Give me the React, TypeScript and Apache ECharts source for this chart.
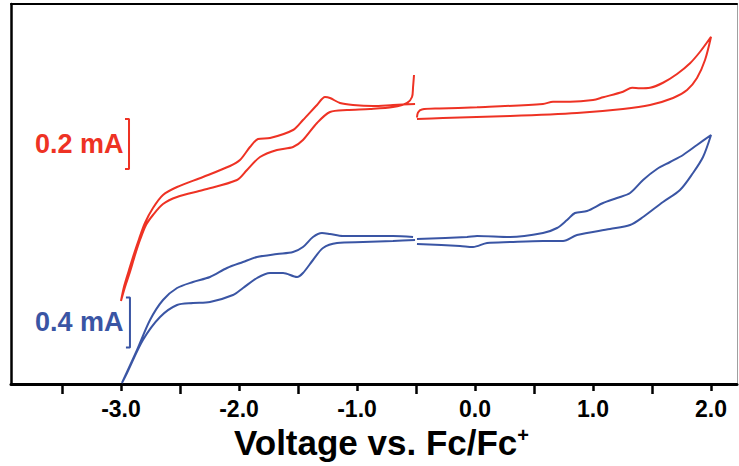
import React, { useEffect, useRef } from "react";
import * as echarts from "echarts";

// Voltage (V vs Fc/Fc+) and current (mA, arbitrary zero) pairs
const redNegSweep: number[][] = [
  [-0.517, 0.12], [-0.525, 0.072], [-0.534, 0.032], [-0.576, 0.008], [-0.695, -0.008],
  [-0.89, -0.016], [-1.085, -0.02], [-1.229, -0.028], [-1.339, -0.072], [-1.458, -0.14],
  [-1.542, -0.168], [-1.678, -0.18], [-1.822, -0.208], [-1.932, -0.26], [-2.017, -0.3],
  [-2.305, -0.34], [-2.525, -0.368], [-2.644, -0.396], [-2.729, -0.44], [-2.788, -0.48],
  [-2.839, -0.54], [-2.881, -0.6], [-2.924, -0.668], [-2.966, -0.728], [-3.0, -0.784],
  [-2.975, -0.728], [-2.932, -0.66], [-2.89, -0.596], [-2.847, -0.536], [-2.797, -0.472],
  [-2.729, -0.412], [-2.644, -0.36], [-2.525, -0.328], [-2.305, -0.288], [-2.076, -0.244],
  [-1.992, -0.22], [-1.907, -0.168], [-1.839, -0.136], [-1.737, -0.132], [-1.542, -0.1],
  [-1.458, -0.06], [-1.339, 0], [-1.271, 0.032], [-1.229, 0.028], [-1.144, 0.008],
  [-1.034, 0], [-0.864, -0.004], [-0.695, 0], [-0.508, 0.004],
];

const redPosSweep: number[][] = [
  [-0.492, -0.05], [-0.483, -0.03], [-0.45, -0.018], [-0.3, -0.014], [0.017, -0.009],
  [0.576, 0.004], [0.661, 0.013], [0.805, 0.013], [1.0, 0.02], [1.085, 0.031],
  [1.254, 0.053], [1.331, 0.069], [1.398, 0.067], [1.483, 0.069], [1.593, 0.089],
  [1.712, 0.124], [1.822, 0.167], [1.907, 0.213], [2.0, 0.273],
  [1.949, 0.18], [1.881, 0.108], [1.797, 0.06], [1.678, 0.028], [1.483, 0],
  [1.254, -0.016], [0.864, -0.032], [0.297, -0.044], [-0.271, -0.052], [-0.492, -0.056],
];

const blueNegSweep: number[][] = [
  [-0.508, 0], [-0.695, -0.008], [-0.949, -0.016], [-1.169, -0.024], [-1.288, -0.064],
  [-1.373, -0.16], [-1.458, -0.264], [-1.508, -0.296], [-1.627, -0.264], [-1.737, -0.264],
  [-1.847, -0.304], [-1.966, -0.384], [-2.051, -0.44], [-2.246, -0.496], [-2.39, -0.504],
  [-2.525, -0.52], [-2.669, -0.616], [-2.814, -0.8], [-2.949, -1.064], [-2.992, -1.144],
  [-2.864, -0.88], [-2.754, -0.64], [-2.644, -0.48], [-2.525, -0.384], [-2.39, -0.336],
  [-2.246, -0.296], [-2.102, -0.224], [-1.966, -0.176], [-1.847, -0.136], [-1.678, -0.112],
  [-1.542, -0.096], [-1.458, -0.056], [-1.373, 0.024], [-1.297, 0.056], [-1.229, 0.048],
  [-1.119, 0.032], [-0.949, 0.032], [-0.695, 0.032], [-0.525, 0.024],
];

const bluePosSweep: number[][] = [
  [-0.492, 0.008], [-0.068, 0.024], [0.017, 0.032], [0.297, 0.024], [0.576, 0.056],
  [0.695, 0.096], [0.78, 0.16], [0.847, 0.216], [0.949, 0.232], [1.085, 0.296],
  [1.203, 0.336], [1.314, 0.376], [1.424, 0.48], [1.542, 0.568], [1.653, 0.624],
  [1.763, 0.68], [1.881, 0.76], [2.0, 0.84],
  [1.932, 0.664], [1.847, 0.536], [1.737, 0.4], [1.593, 0.304], [1.424, 0.184],
  [1.314, 0.12], [1.144, 0.088], [0.864, 0.04], [0.746, -0.008], [0.576, -0.008],
  [0.297, -0.016], [0.102, -0.024], [-0.017, -0.056], [-0.127, -0.048], [-0.492, -0.032],
];

const tickLabels = [-3, -2, -1, 0, 1, 2];
const halfTicks = [-3.5, -2.5, -1.5, -0.5, 0.5, 1.5];

// scale bars: [x position (V), top current (mA), span (mA)]
const redScaleBar = [-2.932, -0.056, 0.2];
const blueScaleBar = [-2.924, -0.46, 0.4];
const redScaleText = "0.2 mA";
const blueScaleText = "0.4 mA";

const RED = "#ee3224";
const BLUE = "#3a55a4";
const FONT = "Liberation Sans";
const X_MIN = -3.932;
const X_MAX = 2.22;

function bracket(bar: number[]): number[][] {
  const [x, top, span] = bar;
  const w = 0.034;
  return [
    [x - w, top],
    [x, top],
    [x, top - span],
    [x - w, top - span],
  ];
}

export default function App() {
  const ref = useRef<HTMLDivElement>(null);
  useEffect(() => {
    if (!ref.current) return;
    const chart = echarts.init(ref.current, undefined, { renderer: "svg" });
    const hidden = { show: false };
    const curve = (data: number[][], color: string, yIdx: number) => ({
      type: "line",
      xAxisIndex: 0,
      yAxisIndex: yIdx,
      data,
      showSymbol: false,
      symbol: "none",
      smooth: 0.3,
      lineStyle: { color, width: 2 },
      silent: true,
    });
    chart.setOption({
      animation: false,
      backgroundColor: "#fff",
      grid: { left: 11, right: 2, top: 4, bottom: 82 },
      xAxis: [
        {
          type: "value",
          position: "bottom",
          min: X_MIN,
          max: X_MAX,
          axisLine: { show: true, onZero: false, lineStyle: { color: "#000", width: 3 } },
          axisTick: { show: true, customValues: tickLabels, length: 7, lineStyle: { color: "#000", width: 2.5 } },
          axisLabel: {
            customValues: tickLabels,
            formatter: (v: number) => v.toFixed(1),
            fontSize: 23,
            fontWeight: "bold",
            fontFamily: FONT,
            color: "#000",
            margin: 13,
          },
          splitLine: hidden,
          name: "Voltage vs. Fc/Fc{sup|+}",
          nameLocation: "middle",
          nameGap: 38,
          nameTextStyle: {
            fontSize: 35,
            fontWeight: "bold",
            fontFamily: FONT,
            color: "#000",
            padding: [0, 0, 0, 15],
            rich: {
              sup: { fontSize: 20, fontWeight: "bold", fontFamily: FONT, color: "#000", verticalAlign: "top" },
            },
          },
        },
        {
          type: "value",
          position: "top",
          min: X_MIN,
          max: X_MAX,
          axisLine: { show: true, onZero: false, lineStyle: { color: "#000", width: 2 } },
          axisTick: hidden,
          axisLabel: hidden,
          splitLine: hidden,
        },
        {
          type: "value",
          position: "bottom",
          min: X_MIN,
          max: X_MAX,
          axisLine: { show: false, onZero: false },
          axisTick: { show: true, customValues: halfTicks, length: 10, lineStyle: { color: "#000", width: 2.5 } },
          axisLabel: hidden,
          splitLine: hidden,
        },
      ],
      yAxis: [
        {
          type: "value",
          position: "left",
          min: -1.116,
          max: 0.404,
          axisLine: { show: true, onZero: false, lineStyle: { color: "#000", width: 2.5 } },
          axisTick: hidden,
          axisLabel: hidden,
          splitLine: hidden,
        },
        {
          type: "value",
          position: "right",
          min: -1.152,
          max: 1.888,
          axisLine: { show: true, onZero: false, lineStyle: { color: "#a0a0a0", width: 1 } },
          axisTick: hidden,
          axisLabel: hidden,
          splitLine: hidden,
        },
      ],
      series: [
        curve(redNegSweep, RED, 0),
        curve(redPosSweep, RED, 0),
        curve(blueNegSweep, BLUE, 1),
        curve(bluePosSweep, BLUE, 1),
        { ...curve(bracket(redScaleBar), RED, 0), smooth: false },
        { ...curve(bracket(blueScaleBar), BLUE, 1), smooth: false },
      ],
      graphic: [
        {
          type: "text",
          x: 35,
          y: 144,
          style: { text: redScaleText, fill: RED, fontSize: 27, fontWeight: "bold", fontFamily: FONT, verticalAlign: "middle" },
        },
        {
          type: "text",
          x: 35,
          y: 322,
          style: { text: blueScaleText, fill: BLUE, fontSize: 27, fontWeight: "bold", fontFamily: FONT, verticalAlign: "middle" },
        },
      ],
    });
    return () => chart.dispose();
  }, []);
  return <div ref={ref} style={{ width: 739, height: 466, position: "absolute", left: 0, top: 0 }} />;
}
